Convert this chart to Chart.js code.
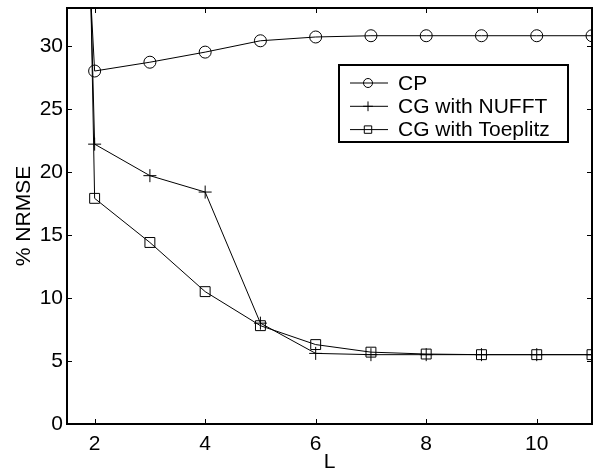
<!DOCTYPE html>
<html>
<head>
<meta charset="utf-8">
<script src="https://cdn.jsdelivr.net/npm/chart.js@4"></script>
<style>
  html, body { margin: 0; padding: 0; background: #fff; }
  #wrap { width: 600px; height: 470px; }
</style>
</head>
<body>
<div id="wrap"><canvas id="nrmseChart"></canvas></div>
<script>
// L values (number of interpolation neighbours / blocks)
var L = [1, 2, 3, 4, 5, 6, 7, 8, 9, 10, 11];

// % NRMSE per method (L=1 values run off the top of the plot)
var cpErr = [110, 28.0, 28.7, 29.5, 30.4, 30.7, 30.8, 30.8, 30.8, 30.8, 30.8];
var nufftErr = [190, 22.2, 19.7, 18.4, 8.0, 5.6, 5.5, 5.5, 5.5, 5.5, 5.5];
var toeplitzErr = [250, 17.9, 14.4, 10.5, 7.8, 6.3, 5.7, 5.55, 5.5, 5.5, 5.5];

var xTicks = [2, 4, 6, 8, 10];
var yTicks = [0, 5, 10, 15, 20, 25, 30];

var seriesNames = ["CP", "CG with NUFFT", "CG with Toeplitz"];
var seriesMarkers = ["circle", "cross", "rect"];
var seriesRadius = [6, 6.5, 7];

function toPoints(ys) {
  return L.map(function (x, i) {
    return { x: x, y: ys[i] };
  });
}

var allSeries = [cpErr, nufftErr, toeplitzErr];

var datasets = allSeries.map(function (ys, i) {
  return {
    label: seriesNames[i],
    data: toPoints(ys),
    borderColor: "#000",
    borderWidth: 1,
    pointStyle: seriesMarkers[i],
    pointRadius: seriesRadius[i],
    pointBorderColor: "#000",
    pointBorderWidth: 1,
    pointBackgroundColor: "rgba(0,0,0,0)",
    fill: false,
    tension: 0,
  };
});

var fontFamily = "'Liberation Sans', Arial, Helvetica, sans-serif";
var fontSize = 21;

// box around the axes with inward tick marks, like matlab
var framePlugin = {
  id: "frame",
  afterDatasetsDraw: function (chart) {
    var c = chart.ctx;
    var a = chart.chartArea;
    var sx = chart.scales.x;
    var sy = chart.scales.y;
    var tl = 5;
    c.save();
    c.strokeStyle = "#000";
    c.lineWidth = 1;
    c.beginPath();
    xTicks.forEach(function (v) {
      var px = Math.round(sx.getPixelForValue(v)) + 0.5;
      c.moveTo(px, a.bottom);
      c.lineTo(px, a.bottom - tl);
      c.moveTo(px, a.top);
      c.lineTo(px, a.top + tl);
    });
    yTicks.forEach(function (v) {
      var py = Math.round(sy.getPixelForValue(v)) + 0.5;
      c.moveTo(a.left, py);
      c.lineTo(a.left + tl, py);
      c.moveTo(a.right, py);
      c.lineTo(a.right - tl, py);
    });
    c.stroke();
    c.lineWidth = 2;
    c.strokeRect(a.left, a.top, a.right - a.left, a.bottom - a.top);
    c.restore();
  },
};

// legend box drawn inside the axes
var boxLegend = {
  id: "boxLegend",
  afterDraw: function (chart) {
    var c = chart.ctx;
    var bx = 339, by = 65, bw = 229, bh = 77;
    var rowH = 23.3;
    c.save();
    c.fillStyle = "#fff";
    c.fillRect(bx, by, bw, bh);
    c.strokeStyle = "#000";
    c.lineWidth = 2;
    c.strokeRect(bx, by, bw, bh);
    c.font = fontSize + "px " + fontFamily;
    c.textBaseline = "middle";
    chart.data.datasets.forEach(function (ds, i) {
      var y = by + 18 + i * rowH;
      c.lineWidth = 1;
      c.beginPath();
      c.moveTo(350, y);
      c.lineTo(388, y);
      c.stroke();
      c.fillStyle = "rgba(0,0,0,0)";
      Chart.helpers.drawPoint(c, {
        pointStyle: ds.pointStyle,
        radius: ds.pointRadius * 0.75,
        borderWidth: 1,
        rotation: 0,
      }, 368, y);
      c.fillStyle = "#000";
      c.fillText(ds.label, 398, y + 1);
    });
    c.restore();
  },
};

var ctx = document.getElementById("nrmseChart").getContext("2d");

var myChart = new Chart(ctx, {
  type: "line",
  data: { datasets: datasets },
  plugins: [framePlugin, boxLegend],
  options: {
    responsive: true,
    maintainAspectRatio: false,
    animation: false,
    layout: { padding: { top: 8, right: 4, left: 0, bottom: 0 } },
    plugins: {
      legend: { display: false },
      tooltip: { enabled: false },
    },
    scales: {
      x: {
        type: "linear",
        min: 1.5,
        max: 11,
        grid: { display: false, drawTicks: false },
        border: { display: false },
        afterFit: function (s) {
          s.height = 46;
          s.paddingLeft = 0;
          s.paddingRight = 0;
        },
        afterBuildTicks: function (s) {
          s.ticks = xTicks.map(function (v) { return { value: v }; });
        },
        ticks: {
          color: "#000",
          padding: 8,
          maxRotation: 0,
          font: { size: fontSize, family: fontFamily },
        },
        title: {
          display: true,
          text: "L",
          color: "#000",
          padding: { top: 0, bottom: -5 },
          font: { size: fontSize, family: fontFamily },
        },
      },
      y: {
        min: 0,
        max: 33,
        grid: { display: false, drawTicks: false },
        border: { display: false },
        afterFit: function (s) {
          s.width = 67;
          s.paddingTop = 0;
          s.paddingBottom = 0;
        },
        afterBuildTicks: function (s) {
          s.ticks = yTicks.map(function (v) { return { value: v }; });
        },
        ticks: {
          color: "#000",
          padding: 4,
          font: { size: fontSize, family: fontFamily },
        },
        title: {
          display: true,
          text: "% NRMSE",
          color: "#000",
          padding: { top: 12, bottom: 0 },
          font: { size: fontSize, family: fontFamily },
        },
      },
    },
  },
});
</script>
</body>
</html>
